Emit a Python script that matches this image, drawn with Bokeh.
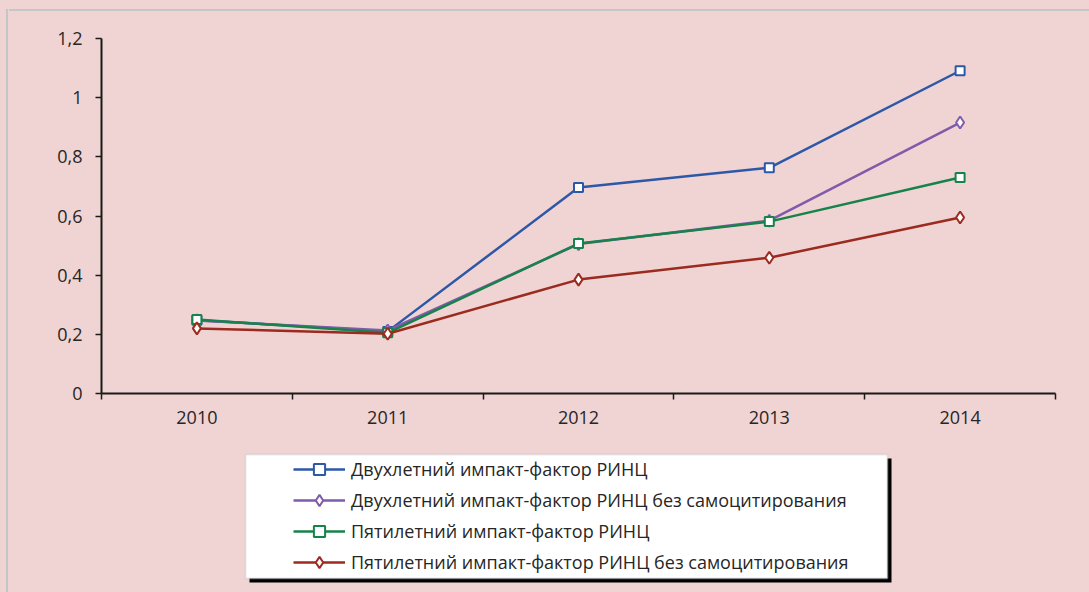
from bokeh.plotting import figure
from bokeh.models import (Range1d, FixedTicker, CustomJSTickFormatter, Legend, LegendItem,
                          BoxAnnotation, Div)
from bokeh.layouts import row, column
from bokeh.embed import file_html
from bokeh.resources import INLINE

years = ["2010", "2011", "2012", "2013", "2014"]
two_year = [0.248, 0.210, 0.696, 0.763, 1.091]
two_year_noself = [0.247, 0.213, 0.505, 0.584, 0.916]
five_year = [0.250, 0.205, 0.507, 0.581, 0.730]
five_year_noself = [0.220, 0.202, 0.385, 0.459, 0.595]
y_ticks = [0, 0.2, 0.4, 0.6, 0.8, 1.0, 1.2]

names = ["Двухлетний импакт-фактор РИНЦ",
         "Двухлетний импакт-фактор РИНЦ без самоцитирования",
         "Пятилетний импакт-фактор РИНЦ",
         "Пятилетний импакт-фактор РИНЦ без самоцитирования"]
series = [two_year, two_year_noself, five_year, five_year_noself]
colors = ["#2D58A8", "#7F5BAA", "#17834A", "#9A2B1E"]
markers = ["square", "diamond", "square", "diamond"]
msizes = [9, 12, 9, 12]

BG = "#F0D3D3"
EDGE = "#C4C6CA"
FONT = "Open Sans"
TXT = "#262626"

LEFT_W, TOP_H = 9, 11
W = 1089 - LEFT_W
CH, LH = 434, 147

xs = list(range(1, len(years) + 1))

# ---- main chart ----
p = figure(width=W, height=CH, output_backend="svg", toolbar_location=None,
           x_range=Range1d(0.5, len(years) + 0.5), y_range=Range1d(0, 1.2),
           min_border_left=92, min_border_right=34, min_border_top=27, min_border_bottom=52,
           styles={"background": BG})
p.background_fill_alpha = 0
p.border_fill_alpha = 0
p.outline_line_color = None
p.xgrid.visible = False
p.ygrid.visible = False

p.xaxis.ticker = FixedTicker(ticks=xs, minor_ticks=[i + 0.5 for i in range(0, len(years) + 1)])
p.xaxis.major_label_overrides = {i + 1: y for i, y in enumerate(years)}
p.xaxis.major_tick_out = 0
p.xaxis.major_tick_in = 0
p.xaxis.minor_tick_out = 6
p.xaxis.minor_tick_in = 0
p.xaxis.minor_tick_line_color = "#1a1a1a"
p.xaxis.minor_tick_line_width = 1.5
p.xaxis.major_label_standoff = 11

p.yaxis.ticker = FixedTicker(ticks=y_ticks)
p.yaxis.formatter = CustomJSTickFormatter(code="""
    var s = tick.toFixed(1).replace('.', ',');
    if (s.endsWith(',0')) { s = s.slice(0, -2); }
    return s;
""")
p.yaxis.major_tick_out = 6
p.yaxis.major_tick_in = 0
p.yaxis.minor_tick_line_color = None
p.yaxis.major_label_standoff = 13

for ax in (p.xaxis, p.yaxis):
    ax.axis_line_color = "#1a1a1a"
    ax.axis_line_width = 2
    ax.major_tick_line_color = "#1a1a1a"
    ax.major_tick_line_width = 1.5
    ax.major_label_text_font = FONT
    ax.major_label_text_font_size = "18px"
    ax.major_label_text_color = TXT

for vals, c, m, s in zip(series, colors, markers, msizes):
    p.line(xs, vals, line_color=c, line_width=2.5)
    p.scatter(xs, vals, marker=m, size=s, fill_color="white", line_color=c, line_width=2)

# ---- legend panel (frame aligned with the chart frame by the column layout) ----
q = figure(width=W, height=LH, output_backend="svg", toolbar_location=None,
           x_axis_type=None, y_axis_type=None,
           x_range=Range1d(100, 101), y_range=Range1d(100, 101),
           min_border_left=92, min_border_right=34, min_border_top=0, min_border_bottom=0,
           styles={"background": BG})
q.background_fill_alpha = 0
q.border_fill_alpha = 0
q.outline_line_color = None
q.xgrid.visible = False
q.ygrid.visible = False

def sbox(l, r, t, b, **kw):
    return BoxAnnotation(left=l, right=r, top=t, bottom=b,
                         left_units="screen", right_units="screen",
                         top_units="screen", bottom_units="screen", **kw)

q.add_layout(sbox(148, 790, 134, 10, fill_color="#000000", fill_alpha=1, line_color=None))
q.add_layout(sbox(144, 786, 138, 14, fill_color="#FFFFFF", fill_alpha=1,
                  line_color="#B4B6BA", line_width=2))

items = []
for name, vals, c, m, s in zip(names, series, colors, markers, msizes):
    # legend-only renderers: same data, outside this panel's visible range
    ln = q.line(xs, vals, line_color=c, line_width=2.5)
    sc = q.scatter(xs, vals, marker=m, size=s - 1, fill_color="white", line_color=c, line_width=2)
    items.append(LegendItem(label=name, renderers=[ln, sc], index=0))

legend = Legend(items=items, location=(192, 16), orientation="vertical",
                background_fill_alpha=0, border_line_color=None,
                padding=0, margin=0, spacing=3,
                glyph_width=52, glyph_height=28, label_height=28, label_standoff=6,
                label_text_font=FONT, label_text_font_size="18px", label_text_color=TXT)
q.add_layout(legend, "center")

# ---- outer chart-area border strips ----
left_strip = Div(text="", width=LEFT_W, height=TOP_H + CH + LH, margin=0,
                 styles={"background": f"linear-gradient(to bottom, {BG} 0px, {BG} 9px, transparent 9px), "
                                       f"linear-gradient(to right, {BG} 0px, {BG} 6px, {EDGE} 6px, {EDGE} 8px, {BG} 8px)"})
top_strip = Div(text="", width=W, height=TOP_H, margin=0,
                styles={"background": f"linear-gradient(to bottom, {BG} 0px, {BG} 9px, {EDGE} 9px, {EDGE} 11px, {BG} 11px)"})

col = column(top_strip, p, q, spacing=0, styles={"background": BG})
layout = row(left_strip, col, spacing=0, styles={"background": BG})

open("out.html", "w").write(file_html(layout, INLINE))
